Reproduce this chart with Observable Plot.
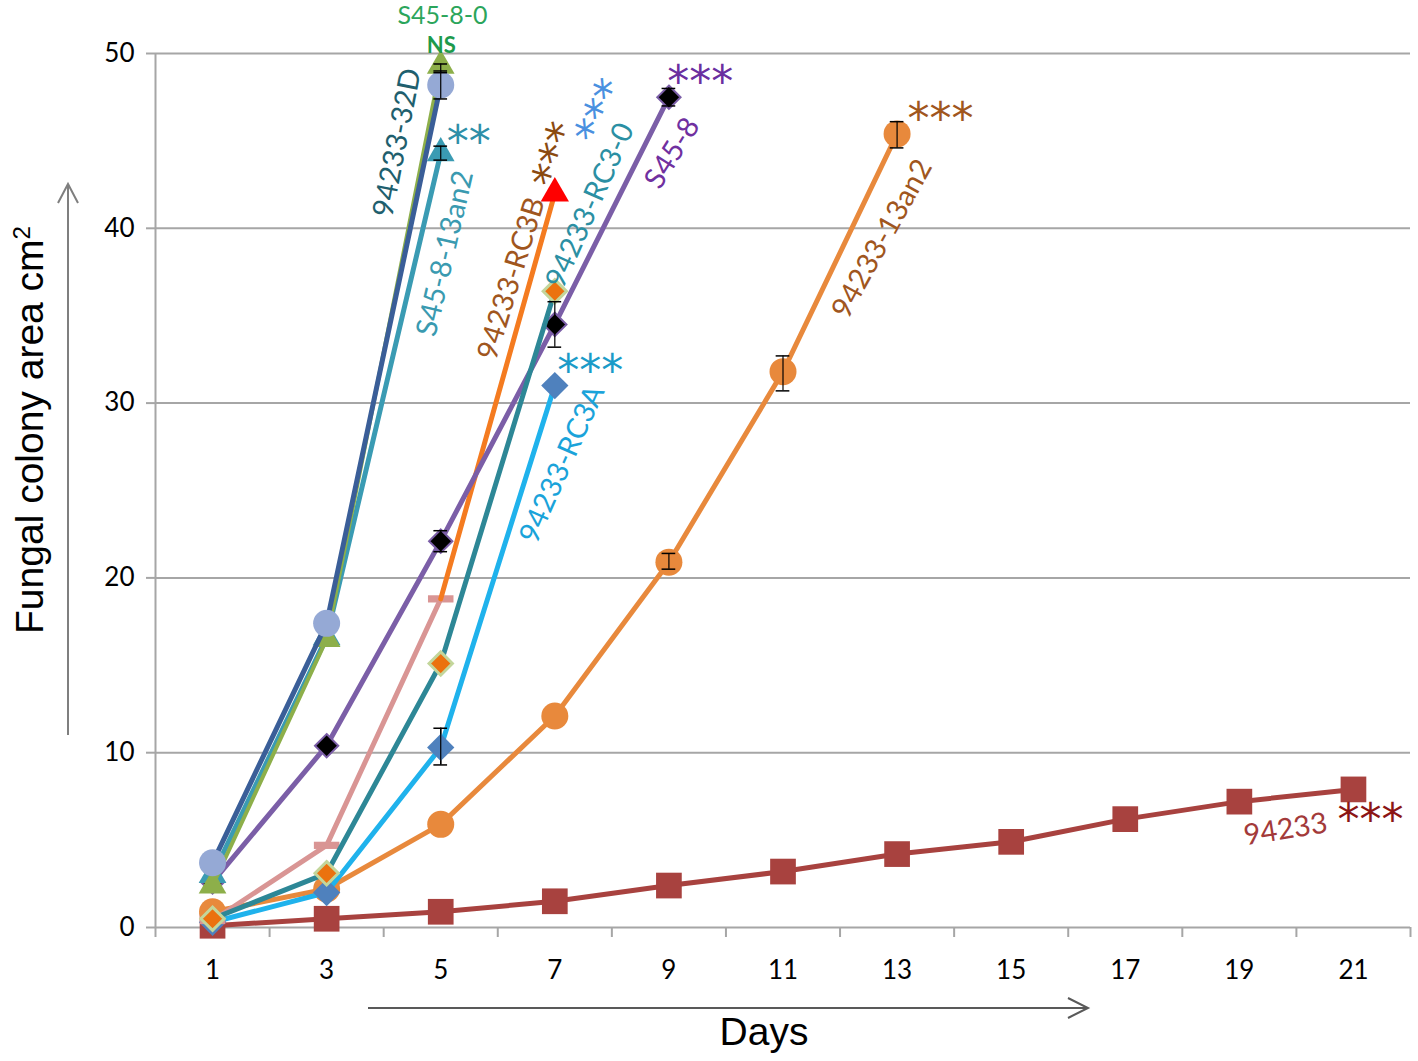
<!DOCTYPE html>
<html><head><meta charset="utf-8">
<script src="https://cdn.jsdelivr.net/npm/d3@7"></script>
<script src="https://cdn.jsdelivr.net/npm/@observablehq/plot@0.6"></script>
<style>body{margin:0;background:#fff} svg{display:block}</style>
</head><body><div id="chart"></div>
<script>
// ---- data ----
const days = [1, 3, 5, 7, 9, 11, 13, 15, 17, 19, 21];
const yTicks = [0, 10, 20, 30, 40, 50];
const dayBoundaries = [0, 2, 4, 6, 8, 10, 12, 14, 16, 18, 20, 22];

const v94233       = [0.1, 0.5, 0.9, 1.5, 2.4, 3.2, 4.2, 4.9, 6.2, 7.2, 7.9];
const v94233_13an2 = [0.9, 2.2, 5.9, 12.1, 20.9, 31.8, 45.4];
const vRC3A        = [0.3, 2.0, 10.3, 31.0];
const vRC3B_early  = [0.4, 4.7, 18.8];
const vRC3B        = [18.8, 42.0];
const vS45_8       = [2.6, 10.4, 22.1, 34.5, 47.5];
const vRC3_0       = [0.5, 3.1, 15.1, 36.4];
const vS45_8_13an2 = [3.0, 16.6, 44.3];
const vS45_8_0     = [2.4, 16.5, 49.3];
const v32D         = [3.7, 17.4, 48.2];

const seriesNames = ["94233", "94233-13an2", "94233-RC3A", "RC3B-early", "94233-RC3B",
                     "S45-8", "94233-RC3-0", "S45-8-13an2", "S45-8-0", "94233-32D"];
const seriesDays = [days, days.slice(0, 7), days.slice(0, 4), days.slice(0, 3), days.slice(2, 4),
                    days.slice(0, 5), days.slice(0, 4), days.slice(0, 3), days.slice(0, 3), days.slice(0, 3)];
const seriesValues = [v94233, v94233_13an2, vRC3A, vRC3B_early, vRC3B,
                      vS45_8, vRC3_0, vS45_8_13an2, vS45_8_0, v32D];

// error bars: series, day, low, high
const errSeries = ["94233-RC3A", "S45-8", "S45-8", "S45-8", "94233-13an2", "94233-13an2", "94233-13an2", "94233-32D", "S45-8-0", "S45-8-13an2"];
const errDays   = [5, 5, 7, 9, 9, 11, 13, 5, 5, 5];
const errLow    = [9.3, 21.5, 33.2, 47.0, 20.5, 30.7, 44.6, 47.4, 48.9, 43.9];
const errHigh   = [11.4, 22.7, 35.8, 48.0, 21.4, 32.7, 46.1, 49.0, 49.4, 44.7];

// annotations
const labelTexts = ["S45-8-0", "NS", "94233-32D", "**", "S45-8-13an2", "94233-RC3B", "***",
  "94233-RC3-0", "***", "S45-8", "***", "***", "94233-RC3A", "94233-13an2", "***", "94233", "***"];

// ---- build tables ----
const rows = [];
seriesNames.forEach((s, i) => seriesDays[i].forEach((d, j) => rows.push({series: s, day: d, value: seriesValues[i][j]})));
const errs = errSeries.map((s, i) => ({series: s, day: errDays[i], lo: errLow[i], hi: errHigh[i]}));
const caps = errs.flatMap(e => [{day: e.day, v: e.lo}, {day: e.day, v: e.hi}]);

const dash = {draw(ctx, size) { const w = Math.sqrt(size) * 0.6, h = Math.sqrt(size) * 0.17; ctx.rect(-w, -h, 2 * w, 2 * h); }};

const styles = {
  "94233":       {stroke: "#A8423F", w: 5, symbol: "square", r: 14.5, fill: "#A8423F"},
  "94233-13an2": {stroke: "#E8893C", w: 5, symbol: "circle", r: 13.5, fill: "#E8893C"},
  "94233-RC3A":  {stroke: "#1FB2EC", w: 5, symbol: "diamond2", r: 12.3, fill: "#4F81BD"},
  "RC3B-early":  {stroke: "#D99594", w: 5, symbol: dash, r: 12, fill: "#D99594"},
  "94233-RC3B":  {stroke: "#F47B20", w: 5, symbol: "triangle", r: 10.5, fill: "#FF0000", lastOnly: true},
  "S45-8":       {stroke: "#7B5EA7", w: 5, symbol: "diamond2", r: 10.5, fill: "#000000", dotStroke: "#7B5EA7", dotW: 2},
  "94233-RC3-0": {stroke: "#2D8796", w: 5, symbol: "diamond2", r: 10.5, fill: "#EB720F", dotStroke: "#C3D69B", dotW: 3},
  "S45-8-13an2": {stroke: "#3A9BB3", w: 5, symbol: "triangle", r: 10.3, fill: "#3A9BB3"},
  "S45-8-0":     {stroke: "#8DAF4A", w: 4, symbol: "triangle", r: 10.3, fill: "#8DAF4A"},
  "94233-32D":   {stroke: "#3A5E98", w: 5, symbol: "circle", r: 13.5, fill: "#95A9D5"}
};

// annotation placement (data units), style
const labelX = [5.03, 5.01, 4.24, 5.49, 5.08, 6.24, 7.03, 7.62, 7.82, 9.06, 9.55, 7.62, 7.13, 12.74, 13.76, 19.81, 21.30];
const labelY = [52.15, 50.45, 44.9, 44.9, 38.56, 37.13, 44.17, 41.3, 46.65, 44.3, 48.3, 31.8, 26.5, 39.4, 46.2, 5.6, 6.1];
const labelRot = [0, 0, -79, 0, -77, -73, -73, -66, -66, -58, 0, 0, -66, -61, 0, -9, 0];
const labelColor = ["#2BA55B", "#1D9A4C", "#1F5F6E", "#2E8FA8", "#3A9AB0", "#A0561E", "#8B4A10",
  "#2B8FA3", "#4A90E0", "#7030A0", "#6A2FA0", "#1B9BC8", "#1AA3DA", "#A0561E", "#A0561E", "#A33A3A", "#8B1515"];
const labelSize = [25, 22, 29, 44, 29, 29, 44, 29, 44, 29, 44, 44, 29, 29, 44, 29, 44];
const labels = labelTexts.map((t, i) => ({text: t, x: labelX[i], y: labelY[i], rot: labelRot[i], color: labelColor[i],
  size: labelSize[i], weight: t === "NS" ? "bold" : "normal",
  family: t.startsWith("*") ? "'DejaVu Sans', sans-serif" : "Lato, 'Open Sans', sans-serif"}));

const grey = "#A6A6A6";
const marks = [
  Plot.gridY(yTicks.filter(v => v > 0), {stroke: grey, strokeOpacity: 1, strokeWidth: 2}),
  Plot.ruleY([0], {stroke: grey, strokeWidth: 2}),
  Plot.ruleX([0], {stroke: grey, strokeWidth: 2}),
  Plot.axisY(yTicks, {tickSize: 9, tickPadding: 12, fontSize: 26, stroke: grey, strokeWidth: 2, fill: "#000", label: null}),
  Plot.axisX(dayBoundaries, {tickSize: 10, tickFormat: () => "", stroke: grey, strokeWidth: 2, label: null}),
  Plot.axisX(days, {tickSize: 0, tickPadding: 33, fontSize: 26, fill: "#000", label: null})
];

for (const s of seriesNames) {
  const st = styles[s];
  const data = rows.filter(r => r.series === s);
  marks.push(Plot.line(data, {x: "day", y: "value", stroke: st.stroke, strokeWidth: st.w, curve: "linear"}));
  if (s === "94233-RC3A") {
    marks.push(Plot.ruleX(errs.filter(e => e.series === s), {x: "day", y1: "lo", y2: "hi", stroke: "#000", strokeWidth: 1.5}));
  }
  const dots = st.lastOnly ? data.slice(-1) : data;
  marks.push(Plot.dot(dots, {x: "day", y: "value", symbol: () => st.symbol, r: st.r, fill: st.fill,
    stroke: st.dotStroke || "none", strokeWidth: st.dotW || 0}));
}
// error bars & caps
marks.push(Plot.ruleX(errs, {x: "day", y1: "lo", y2: "hi", stroke: "#000", strokeWidth: 1.2}));
marks.push(Plot.ruleY(caps, {y: "v", x1: d => d.day - 0.12, x2: d => d.day + 0.12, stroke: "#000", strokeWidth: 1.5}));

for (const l of labels) {
  marks.push(Plot.text([l], {x: "x", y: "y", text: "text", rotate: l.rot, fill: l.color, fontSize: l.size,
    fontWeight: l.weight, fontFamily: l.family, textAnchor: "middle", lineAnchor: "middle"}));
}

const chart = Plot.plot({
  width: 1418, height: 1061,
  marginLeft: 155, marginRight: 8, marginTop: 53, marginBottom: 134,
  x: {type: "linear", domain: [0, 22]},
  y: {domain: [0, 50]},
  style: {fontFamily: "Lato, 'Open Sans', sans-serif", background: "#fff", overflow: "visible"},
  marks
});
document.getElementById("chart").appendChild(chart);

// decorations: axis titles and arrows
const svg = d3.select(chart);
const arrowColor = "#7F7F7F";
svg.append("line").attr("x1", 68).attr("y1", 735).attr("x2", 68).attr("y2", 184).attr("stroke", arrowColor).attr("stroke-width", 2);
svg.append("polyline").attr("points", "58,203 68,184 78,203").attr("fill", "none").attr("stroke", arrowColor).attr("stroke-width", 2);
svg.append("line").attr("x1", 368).attr("y1", 1008).attr("x2", 1088).attr("y2", 1008).attr("stroke", "#595959").attr("stroke-width", 2);
svg.append("polyline").attr("points", "1068,998 1088,1008 1068,1018").attr("fill", "none").attr("stroke", "#595959").attr("stroke-width", 2);

const yt = svg.append("text").attr("transform", "translate(43,430) rotate(-90)").attr("text-anchor", "middle")
  .attr("font-family", "'Liberation Sans', Arial, sans-serif").attr("font-size", 39).attr("fill", "#000");
yt.append("tspan").text("Fungal colony area cm");
yt.append("tspan").attr("baseline-shift", "super").attr("font-size", 24).text("2");
svg.append("text").attr("x", 764).attr("y", 1045).attr("text-anchor", "middle")
  .attr("font-family", "'Liberation Sans', Arial, sans-serif").attr("font-size", 39).attr("fill", "#000").text("Days");
</script></body></html>
